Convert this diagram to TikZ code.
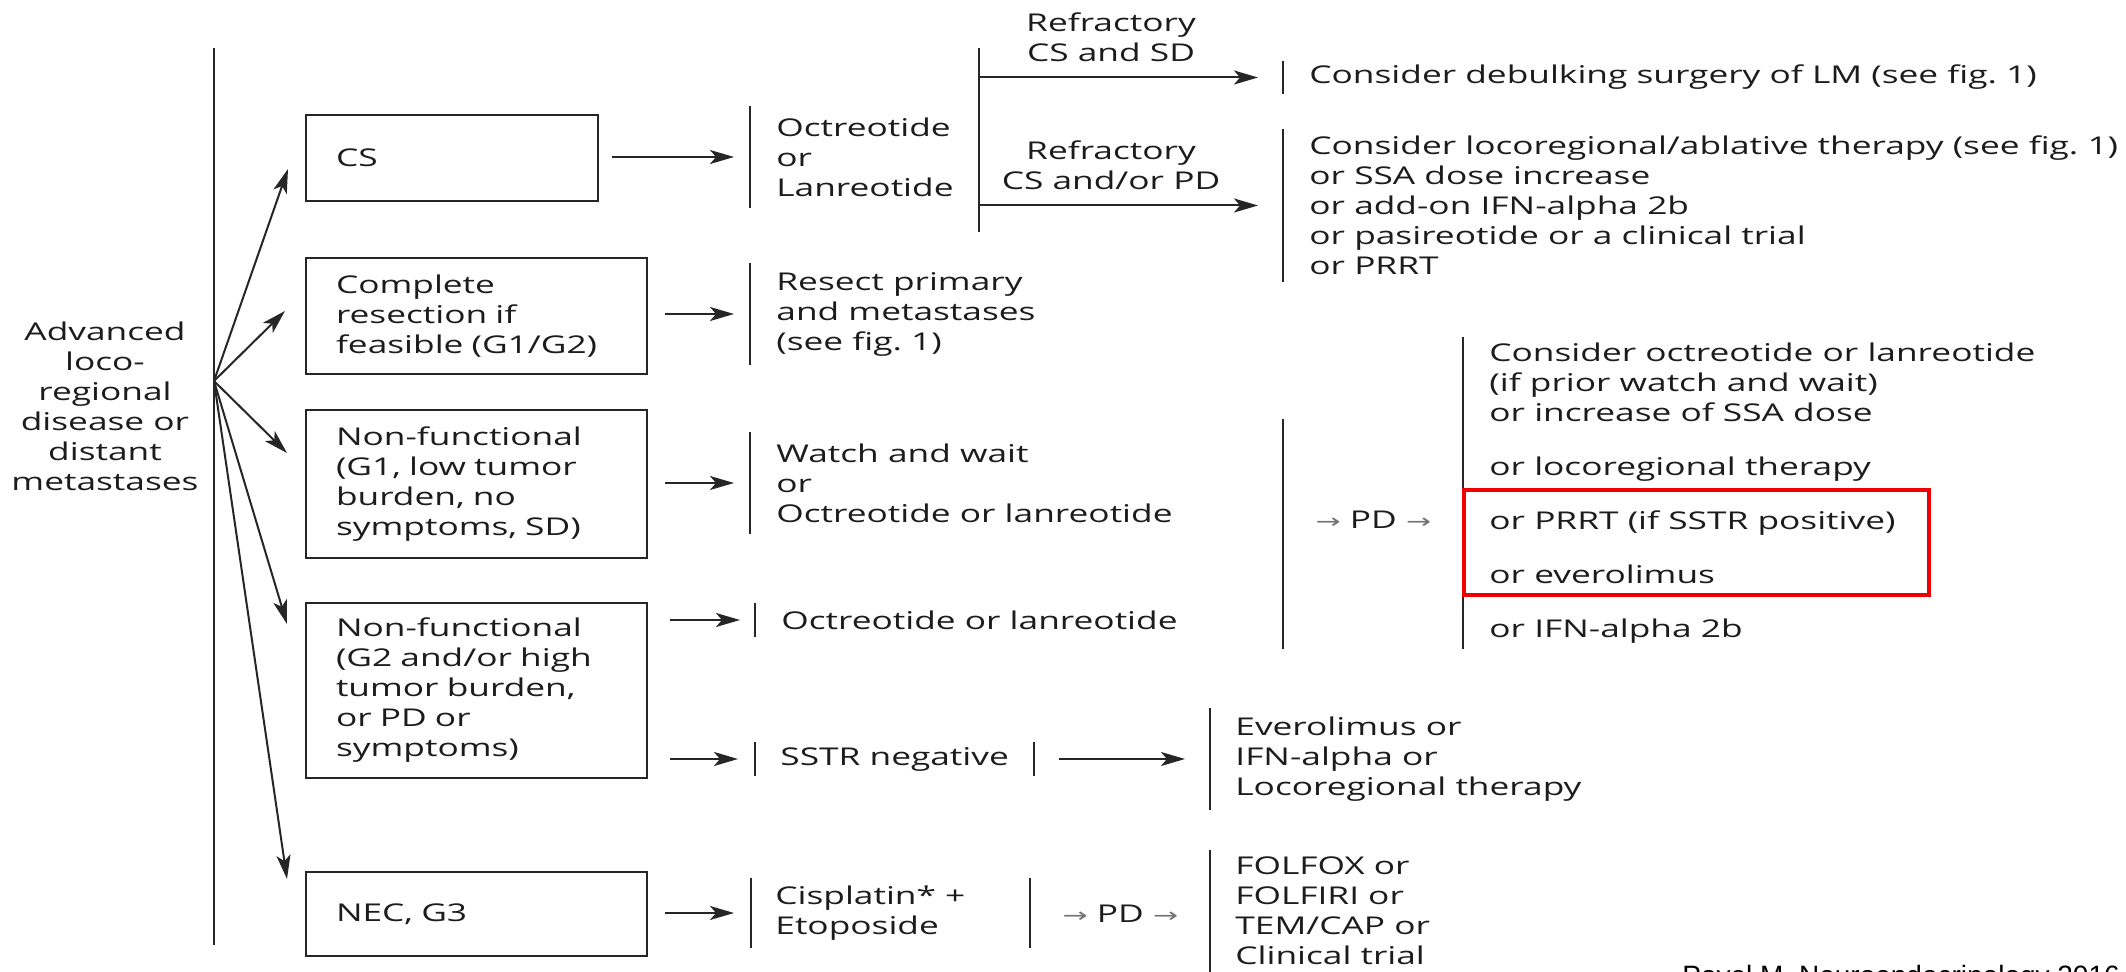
\documentclass[tikz,border=0pt]{standalone}
\usepackage{fontspec}
\setmainfont{Open Sans}[FakeStretch=1.44]
\newfontfamily\arrowfont{DejaVu Sans}[FakeStretch=1.5]
\newfontfamily\citefont{Liberation Sans}
\usetikzlibrary{arrows.meta,calc}
\definecolor{ink}{HTML}{1C1C1C}
\definecolor{rulec}{HTML}{262626}
\definecolor{markc}{HTML}{F00000}
% small grey arrow used inside the "PD" steps
\newcommand{\sarr}{{\arrowfont\fontsize{10pt}{10pt}\selectfont\color{black!55}→}}

\begin{document}
\begin{tikzpicture}[x=0.5pt, y=-0.5pt,
  font=\fontsize{12.25pt}{15pt}\selectfont, text=ink,
  every node/.style={inner sep=0pt},
  box/.style={draw=rulec, line width=1pt, anchor=north west, align=left,
              inner xsep=15pt, inner ysep=0pt},
  wbox/.style={box, minimum width=170.5pt, text width=140.5pt},
  blk/.style={anchor=west, align=left, inner xsep=13pt, inner ysep=0pt},
  barline/.style={draw=rulec, line width=1pt},
  arr/.style={draw=rulec, line width=1pt, -{Stealth[length=12pt, width=7pt, inset=3pt]}},
  lbl/.style={align=center, anchor=south, yshift=7.5pt},
  hilite/.style={draw=markc, line width=2.25pt}]

\fill[white] (0,0) rectangle (2126,972);
\useasboundingbox (0,0) rectangle (2126,972);

% root and its spine
\coordinate (spinetop) at (214,48);
\coordinate (spinebot) at (214,945);
\coordinate (fan) at (214,381);
\draw[barline] (spinetop) -- (spinebot);
\node[align=center] (root) at (105,406) {Advanced\\loco-\\regional\\disease or\\distant\\metastases};

% first-level boxes
\node[box, minimum width=146pt, text width=116pt, minimum height=43pt] (cs) at (305,114) {CS};
\node[wbox, minimum height=58pt] (comp) at (305,257) {Complete\\resection if\\feasible (G1/G2)};
\node[wbox, minimum height=74pt] (nfa) at (305,409) {Non-functional\\(G1, low tumor\\burden, no\\symptoms, SD)};
\node[wbox, minimum height=87.5pt] (nfb) at (305,602) {Non-functional\\(G2 and/or high\\tumor burden,\\or PD or\\symptoms)};
\node[box, minimum width=170.5pt, text width=140.5pt, minimum height=42pt] (nec) at (305,871) {NEC, G3};

% treatment blocks (each with a rule on its left)
\node[blk, minimum height=51pt] (oct) at (750,157) {Octreotide\\or\\Lanreotide};
\node[blk, minimum height=51pt] (resect) at (750,314) {Resect primary\\and metastases\\(see fig.~1)};
\node[blk, minimum height=51pt] (watch) at (750,483) {Watch and wait\\or\\Octreotide or lanreotide};
\node[blk, minimum height=17pt] (octb) at (755,620) {Octreotide or lanreotide};
\node[blk, minimum height=16.5pt, inner xsep=12.5pt] (sstr) at (755,759) {SSTR negative};
\node[blk, minimum height=51pt, inner xsep=12.5pt] (evero) at (1210,759) {Everolimus or\\IFN-alpha or\\Locoregional therapy};
\node[blk, minimum height=35pt, inner xsep=12pt] (cispl) at (751,913) {Cisplatin* +\\Etoposide};
\node[anchor=west, minimum width=90pt, minimum height=35pt, text height=9pt, text depth=0pt] (pdb) at (1030,913) {\sarr\ PD \sarr};
\node[blk, minimum height=61pt, inner xsep=12.5pt] (folf) at (1210,911) {FOLFOX or\\FOLFIRI or\\TEM/CAP or\\Clinical trial};

\node[minimum height=92pt] (refr) at (980,140) {};
\node[blk, minimum height=16.5pt] (debulk) at (1283,77.5) {Consider debulking surgery of LM (see fig.~1)};
\node[blk, minimum height=76.5pt] (loco) at (1283,205.5) {Consider locoregional/ablative therapy (see fig.~1)\\or SSA dose increase\\or add-on IFN-alpha 2b\\or pasireotide or a clinical trial\\or PRRT};

\node[anchor=west, minimum width=90pt, minimum height=115pt, text height=9pt, text depth=14pt] (pda) at (1283,534) {\sarr\ PD \sarr};
\node[blk, minimum height=156pt] (opts) at (1463,493) {Consider octreotide or lanreotide\\(if prior watch and wait)\\or increase of SSA dose\\[12pt]or locoregional therapy\\[12pt]or PRRT (if SSTR positive)\\[12pt]or everolimus\\[12pt]or IFN-alpha 2b};

% left rules of the blocks
\foreach \n in {oct,resect,watch,octb,sstr,evero,cispl,pdb,folf,refr,debulk,loco,pda,opts}
  \draw[barline] (\n.north west) -- (\n.south west);
\draw[barline] (sstr.north east) -- (sstr.south east);

% fan from the root
\draw[arr] (fan) -- ($(cs.west)+(-17,11)$);
\draw[arr] (fan) -- ($(comp.west)+(-20,-5)$);
\draw[arr] (fan) -- ($(nfa.west)+(-18,-31)$);
\draw[arr] (fan) -- ($(nfb.west)+(-18,-66.5)$);
\draw[arr] (fan) -- ($(nec.west)+(-18,-35)$);

% box to treatment
\draw[arr, shorten <=6.5pt, shorten >=8pt] (cs.east |- oct.west) -- (oct.west);
\draw[arr, shorten <=8.5pt, shorten >=8pt] (comp.east |- resect.west) -- (resect.west);
\draw[arr, shorten <=8.5pt, shorten >=8pt] (nfa.east |- watch.west) -- (watch.west);
\draw[arr, shorten <=11pt, shorten >=7.5pt] (nfb.east |- octb.west) -- (octb.west);
\draw[arr, shorten <=11pt, shorten >=8.5pt] (nfb.east |- sstr.west) -- (sstr.west);
\draw[arr, shorten <=8.5pt, shorten >=8.5pt] (nec.east |- cispl.west) -- (cispl.west);
\draw[arr, shorten <=12.5pt, shorten >=12.5pt] (sstr.east) -- (evero.west);

% refractory branches
\draw[arr, shorten >=12.5pt] (refr.west |- debulk.west) -- node[lbl, pos=0.435] {Refractory\\CS and SD} (debulk.west);
\draw[arr, shorten >=12.5pt] (refr.west |- loco.west) -- node[lbl, pos=0.435] {Refractory\\CS and/or PD} (loco.west);

% highlighted options
\draw[hilite] (1464,490) rectangle (1929,595);

% source line
\node[anchor=base west, font=\citefont\fontsize{14pt}{15pt}\selectfont, text=black] (cite) at (1682,985) {Pavel M, Neuroendocrinology 2016};
\end{tikzpicture}
\end{document}
